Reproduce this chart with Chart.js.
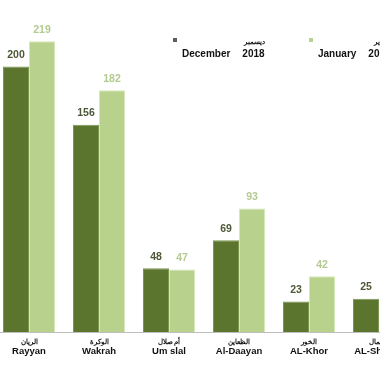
<!DOCTYPE html>
<html>
<head>
<meta charset="utf-8">
<script src="https://cdn.jsdelivr.net/npm/chart.js@4"></script>
<style>
  html, body { margin: 0; padding: 0; background: #fff; overflow: hidden; width: 380px; height: 372px; }
  #wrap { position: absolute; left: -6px; top: 0; width: 420px; height: 372px; }
</style>
</head>
<body>
<div id="wrap"><canvas id="chart"></canvas></div>
<script>
"use strict";

const CATEGORIES_EN = ["Rayyan", "Wakrah", "Um slal", "Al-Daayan", "AL-Khor", "AL-Shamal"];
const CATEGORIES_AR = ["الريان", "الوكرة", "أم صلال", "الظعاين", "الخور", "الشمال"];
const SERIES_EN = ["December", "January"];
const SERIES_YEAR = ["2018", "2019"];
const SERIES_AR = ["ديسمبر", "يناير"];
const DECEMBER_2018 = [200, 156, 48, 69, 23, 25];
const JANUARY_2019 = [219, 182, 47, 93, 42, null];   // last bar is cut off in the source

const BAR_COLORS = ["#5b752f", "#b8d28d"];
const EDGE_COLORS = ["#7d9650", "#d6e8b8"];
const VALUE_COLORS = ["#4c5836", "#b3ca90"];
const KEY_COLORS = ["#5a5f55", "#b8d28d"];
const FONT = "Arial, 'Liberation Sans', sans-serif";
const NARROW = "'Liberation Sans Narrow', 'Arial Narrow', Arial, sans-serif";

// value labels above each bar
const valueLabels = {
  id: "valueLabels",
  afterDatasetsDraw(chart) {
    const { ctx } = chart;
    ctx.save();
    ctx.font = `bold 10.5px ${FONT}`;
    ctx.textAlign = "center";
    ctx.textBaseline = "bottom";
    chart.data.datasets.forEach((ds, di) => {
      const meta = chart.getDatasetMeta(di);
      ctx.fillStyle = VALUE_COLORS[di];
      meta.data.forEach((bar, i) => {
        const v = ds.data[i];
        if (v == null) return;
        ctx.fillText(String(v), bar.x, bar.y - 6);
      });
    });
    ctx.restore();
  },
};

// two-line category labels: Arabic above, English below
const categoryLabels = {
  id: "categoryLabels",
  afterDraw(chart) {
    const { ctx, scales: { x }, chartArea: { bottom } } = chart;
    ctx.save();
    ctx.textAlign = "center";
    ctx.textBaseline = "alphabetic";
    ctx.fillStyle = "#111";
    CATEGORIES_EN.forEach((name, i) => {
      const px = x.getPixelForValue(i);
      ctx.font = `bold 7px ${FONT}`;
      ctx.fillText(CATEGORIES_AR[i], px, bottom + 12);
      ctx.font = `bold 9.5px ${NARROW}`;
      ctx.fillText(name, px, bottom + 22);
    });
    ctx.restore();
  },
};

// legend: small key square, month + year, Arabic month above the year
const legendKeys = {
  id: "legendKeys",
  afterDraw(chart) {
    const { ctx } = chart;
    ctx.save();
    SERIES_EN.forEach((name, i) => {
      const x0 = 179 + i * 136;
      ctx.fillStyle = KEY_COLORS[i];
      ctx.fillRect(x0, 38, 4, 4);
      ctx.fillStyle = "#111";
      ctx.textBaseline = "alphabetic";
      ctx.textAlign = "left";
      ctx.font = `bold 10px ${FONT}`;
      ctx.fillText(name, x0 + 9, 57);
      const yx = x0 + 9 + ctx.measureText(name).width + 12;
      ctx.fillText(SERIES_YEAR[i], yx, 57);
      const yw = ctx.measureText(SERIES_YEAR[i]).width;
      ctx.textAlign = "center";
      ctx.font = `bold 7px ${FONT}`;
      ctx.fillText(SERIES_AR[i], yx + yw / 2 + 1, 44);
    });
    ctx.restore();
  },
};

new Chart(document.getElementById("chart"), {
  type: "bar",
  data: {
    labels: CATEGORIES_EN,
    datasets: [DECEMBER_2018, JANUARY_2019].map((data, i) => ({
      label: `${SERIES_EN[i]} ${SERIES_YEAR[i]}`,
      data,
      backgroundColor: BAR_COLORS[i],
      borderColor: EDGE_COLORS[i],
      borderWidth: { top: 1, left: 1, right: 1, bottom: 0 },
      borderSkipped: "bottom",
      categoryPercentage: 0.743,
      barPercentage: 1,
    })),
  },
  plugins: [valueLabels, categoryLabels, legendKeys],
  options: {
    responsive: true, maintainAspectRatio: false, animation: false,
    layout: { padding: { top: 0, bottom: 32, left: 0, right: 0 } },
    scales: {
      x: {
        grid: { display: false },
        ticks: { display: false },
        border: { color: "#bdbdbd", width: 1 },
      },
      y: { display: false, min: 0, max: 250 },
    },
    plugins: { legend: { display: false }, tooltip: { enabled: false } },
  },
});
</script>
</body>
</html>
